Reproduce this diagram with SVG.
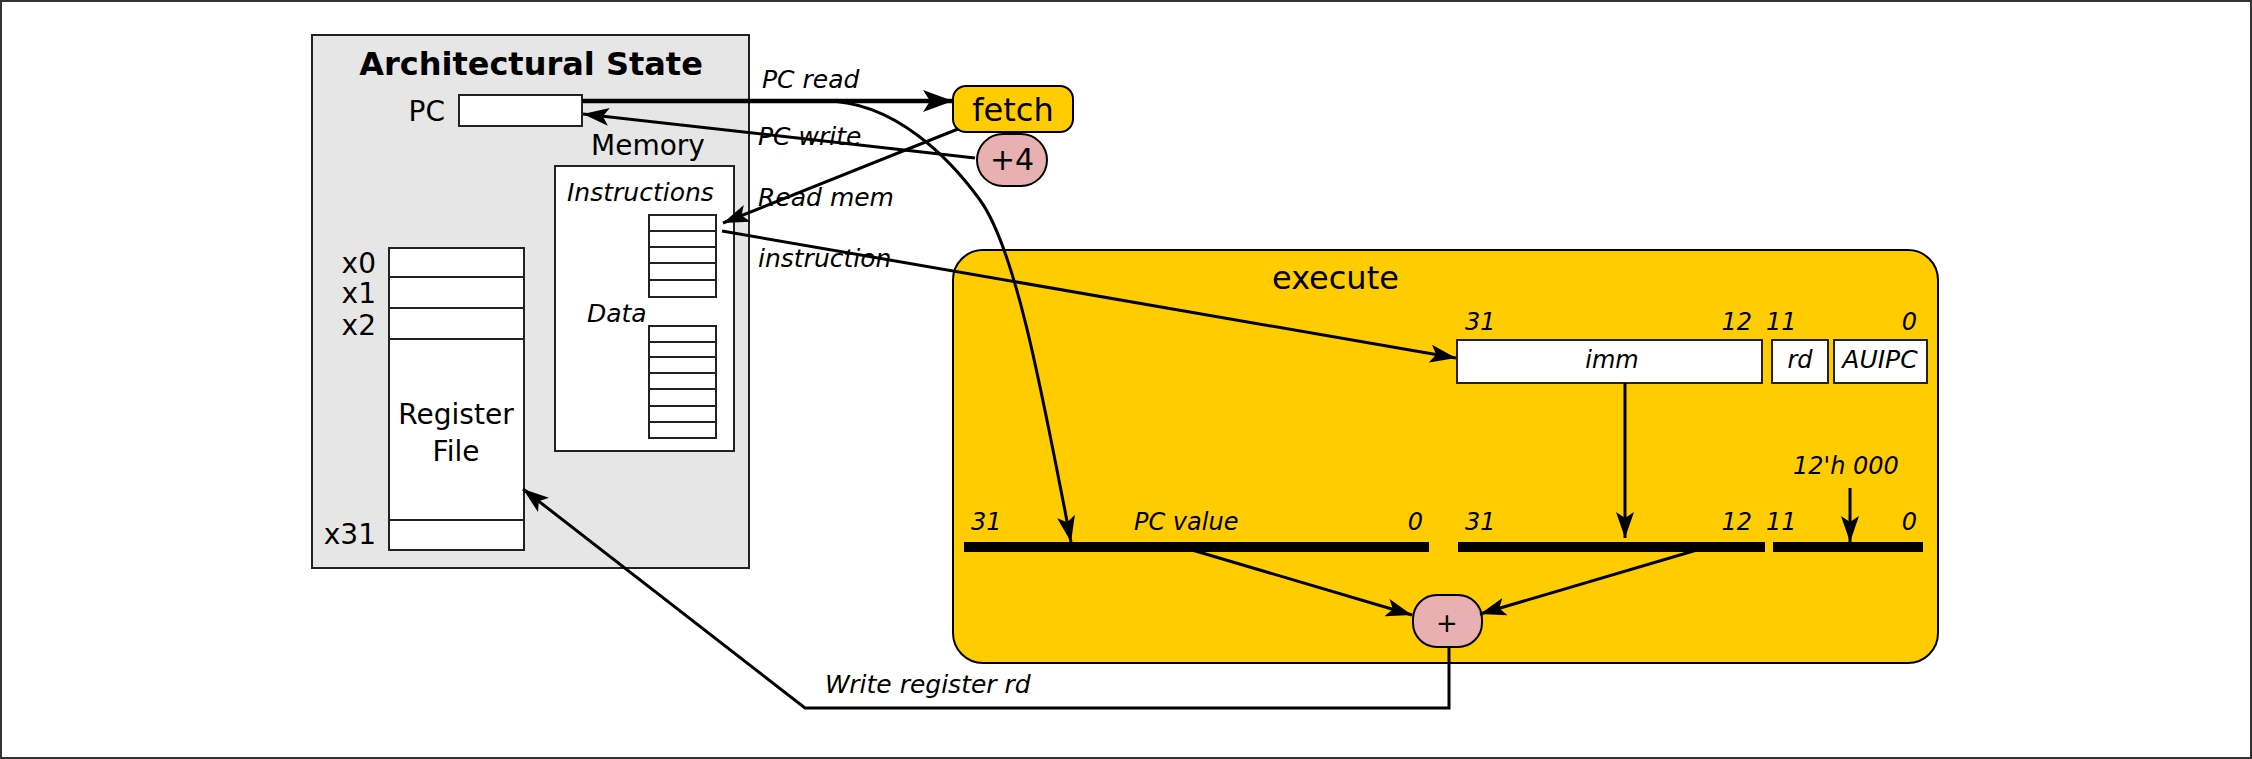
<svg xmlns="http://www.w3.org/2000/svg" width="2252" height="759" viewBox="0 0 2252 759">
<defs>
<style>
text{font-family:"DejaVu Sans","Liberation Sans",sans-serif;fill:#000}
.it{font-style:italic}
.box{fill:#fff;stroke:#222;stroke-width:2}
.row{stroke:#222;stroke-width:2}
.wire{fill:none;stroke:#000;stroke-width:3}
.bar{stroke:#000;stroke-width:10}
</style>
<marker id="ah" markerUnits="userSpaceOnUse" viewBox="0 0 26 18" refX="26" refY="9" markerWidth="26" markerHeight="18" orient="auto">
<path d="M0,0 L26,9 L0,18 L6,9 Z" fill="#000"/>
</marker>
<marker id="ahb" markerUnits="userSpaceOnUse" viewBox="0 0 30 22" refX="30" refY="11" markerWidth="30" markerHeight="22" orient="auto">
<path d="M0,0 L30,11 L0,22 L7,11 Z" fill="#000"/>
</marker>
</defs>
<rect x="1" y="1" width="2250" height="757" fill="#fff" stroke="#333" stroke-width="2"/>

<g id="arch-state">
<rect x="312" y="35" width="437" height="533" fill="#e6e6e6" stroke="#222" stroke-width="2"/>
<text x="531" y="75" font-size="32" font-weight="bold" text-anchor="middle">Architectural State</text>
</g>

<g id="pc">
<text x="445" y="121" font-size="28" text-anchor="end">PC</text>
<rect class="box" x="459" y="95" width="123" height="31"/>
</g>

<g id="memory">
<text x="591" y="155" font-size="28">Memory</text>
<rect class="box" x="555" y="166" width="179" height="285"/>
<text class="it" x="567" y="201" font-size="25">Instructions</text>
<rect class="box" x="649" y="215" width="67" height="82"/>
<line class="row" x1="649" y1="231" x2="716" y2="231"/>
<line class="row" x1="649" y1="247" x2="716" y2="247"/>
<line class="row" x1="649" y1="263" x2="716" y2="263"/>
<line class="row" x1="649" y1="280" x2="716" y2="280"/>
<text class="it" x="587" y="322" font-size="25">Data</text>
<rect class="box" x="649" y="326" width="67" height="112"/>
<line class="row" x1="649" y1="342" x2="716" y2="342"/>
<line class="row" x1="649" y1="357" x2="716" y2="357"/>
<line class="row" x1="649" y1="373" x2="716" y2="373"/>
<line class="row" x1="649" y1="389" x2="716" y2="389"/>
<line class="row" x1="649" y1="406" x2="716" y2="406"/>
<line class="row" x1="649" y1="422" x2="716" y2="422"/>
</g>

<g id="register-file">
<rect class="box" x="389" y="248" width="135" height="302"/>
<line class="row" x1="389" y1="277" x2="524" y2="277"/>
<line class="row" x1="389" y1="308" x2="524" y2="308"/>
<line class="row" x1="389" y1="339" x2="524" y2="339"/>
<line class="row" x1="389" y1="520" x2="524" y2="520"/>
<text x="376" y="273" font-size="28" text-anchor="end">x0</text>
<text x="376" y="303" font-size="28" text-anchor="end">x1</text>
<text x="376" y="335" font-size="28" text-anchor="end">x2</text>
<text x="376" y="544" font-size="28" text-anchor="end">x31</text>
<text x="456" y="424" font-size="28" text-anchor="middle">Register</text>
<text x="456" y="461" font-size="28" text-anchor="middle">File</text>
</g>

<g id="fetch">
<rect x="953" y="86" width="120" height="46" rx="13" fill="#ffcc00" stroke="#000" stroke-width="2"/>
<text x="1013" y="121" font-size="32" text-anchor="middle">fetch</text>
</g>

<g id="plus4">
<rect x="977" y="134" width="70" height="52" rx="26" fill="#e8b0b0" stroke="#000" stroke-width="2"/>
<text x="1012" y="170" font-size="30" text-anchor="middle">+4</text>
</g>

<g id="execute">
<rect x="953" y="250" width="985" height="413" rx="30" fill="#ffcc00" stroke="#000" stroke-width="2"/>
<text x="1272" y="289" font-size="32">execute</text>
<text class="it" x="1465" y="330" font-size="24">31</text>
<text class="it" x="1752" y="330" font-size="24" text-anchor="end">12</text>
<text class="it" x="1766" y="330" font-size="24">11</text>
<text class="it" x="1917" y="330" font-size="24" text-anchor="end">0</text>
<rect class="box" x="1457" y="340" width="305" height="43"/>
<rect class="box" x="1772" y="340" width="56" height="43"/>
<rect class="box" x="1834" y="340" width="93" height="43"/>
<text class="it" x="1612" y="368" font-size="24" text-anchor="middle">imm</text>
<text class="it" x="1800" y="368" font-size="24" text-anchor="middle">rd</text>
<text class="it" x="1880" y="368" font-size="25" text-anchor="middle">AUIPC</text>
<text class="it" x="1793" y="474" font-size="24">12'h 000</text>
<text class="it" x="971" y="530" font-size="24">31</text>
<text class="it" x="1134" y="530" font-size="24">PC value</text>
<text class="it" x="1423" y="530" font-size="24" text-anchor="end">0</text>
<text class="it" x="1465" y="530" font-size="24">31</text>
<text class="it" x="1752" y="530" font-size="24" text-anchor="end">12</text>
<text class="it" x="1766" y="530" font-size="24">11</text>
<text class="it" x="1917" y="530" font-size="24" text-anchor="end">0</text>
<line class="bar" x1="964" y1="547" x2="1429" y2="547"/>
<line class="bar" x1="1458" y1="547" x2="1765" y2="547"/>
<line class="bar" x1="1773" y1="547" x2="1923" y2="547"/>
</g>

<g id="adder">
<rect x="1413" y="595" width="69" height="52" rx="24" fill="#e8b0b0" stroke="#000" stroke-width="2"/>
<text x="1447" y="632" font-size="26" text-anchor="middle">+</text>
</g>

<g id="connectors">
<line x1="582" y1="101" x2="953" y2="101" stroke="#000" stroke-width="4.5" marker-end="url(#ahb)"/>
<path class="wire" d="M825,101 C895,101 951,160 980,200 C1016,250 1042,392 1071,542" marker-end="url(#ah)"/>
<line class="wire" x1="975" y1="158" x2="583" y2="114" marker-end="url(#ah)"/>
<line class="wire" x1="958" y1="129" x2="723" y2="223" marker-end="url(#ah)"/>
<line class="wire" x1="722" y1="231" x2="1456" y2="358" marker-end="url(#ah)"/>
<line class="wire" x1="1625" y1="383" x2="1625" y2="538" marker-end="url(#ah)"/>
<line class="wire" x1="1850" y1="488" x2="1850" y2="542" marker-end="url(#ah)"/>
<line class="wire" x1="1182" y1="547" x2="1412" y2="615" marker-end="url(#ah)"/>
<line class="wire" x1="1707" y1="547" x2="1480" y2="614" marker-end="url(#ah)"/>
<path class="wire" d="M1449,647 L1449,708 L805,708 L523,489" marker-end="url(#ah)"/>
<text class="it" x="762" y="88" font-size="25">PC read</text>
<text class="it" x="758" y="145" font-size="25">PC write</text>
<text class="it" x="758" y="206" font-size="25">Read mem</text>
<text class="it" x="758" y="267" font-size="25">instruction</text>
<text class="it" x="825" y="693" font-size="25">Write register rd</text>
</g>
</svg>
